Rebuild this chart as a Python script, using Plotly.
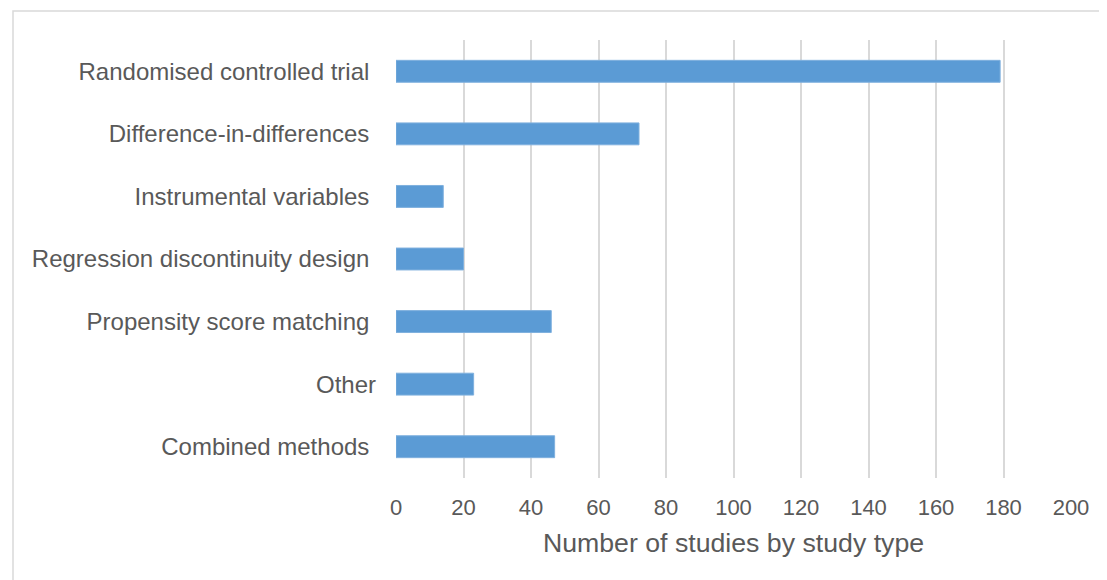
import plotly.graph_objects as go

categories = [
    "Randomised controlled trial",
    "Difference-in-differences",
    "Instrumental variables",
    "Regression discontinuity design",
    "Propensity score matching",
    "Other",
    "Combined methods",
]
counts = [179, 72, 14, 20, 46, 23, 47]
x_ticks = [0, 20, 40, 60, 80, 100, 120, 140, 160, 180, 200]

NBSP = "\u00a0"
labels = [c if c == "Other" else c + NBSP for c in categories]

W, H = 1107, 580
L, R, T, B = 388, 44, 32, 110
pw, ph = W - L - R, H - T - B

fig = go.Figure(
    go.Bar(
        x=counts,
        y=labels,
        orientation="h",
        marker=dict(color="#5b9bd5", line=dict(color="#7fb0de", width=1)),
        hoverinfo="x+y",
    )
)

font_color = "#595959"
fig.update_layout(
    width=W,
    height=H,
    margin=dict(l=L, r=R, t=T, b=B),
    paper_bgcolor="white",
    plot_bgcolor="white",
    bargap=0.65,
    showlegend=False,
    font=dict(family="Liberation Sans, Arial, sans-serif", size=22, color=font_color),
    xaxis=dict(
        range=[0, 200],
        tickvals=x_ticks,
        showgrid=True,
        gridcolor="#d9d9d9",
        gridwidth=2,
        zeroline=False,
        showline=False,
        ticks="",
        tickfont=dict(size=22, color=font_color),
        ticklabelstandoff=14,
        title=dict(text="Number of studies by study type", font=dict(size=26.7, color=font_color), standoff=14),
    ),
    yaxis=dict(
        categoryorder="array",
        categoryarray=labels,
        autorange="reversed",
        showgrid=False,
        zeroline=False,
        showline=False,
        ticks="",
        tickfont=dict(size=24, color=font_color),
        ticklabelstandoff=19,
    ),
    shapes=[
        dict(
            type="rect",
            xref="paper",
            yref="paper",
            x0=(5 - L) / pw,
            x1=(W + 20 - L) / pw,
            y0=-(B + 20) / ph,
            y1=(H - B - 3) / ph,
            line=dict(color="#d9d9d9", width=1.5),
            fillcolor="rgba(0,0,0,0)",
            layer="below",
        )
    ],
)

fig.write_html("out.html")
